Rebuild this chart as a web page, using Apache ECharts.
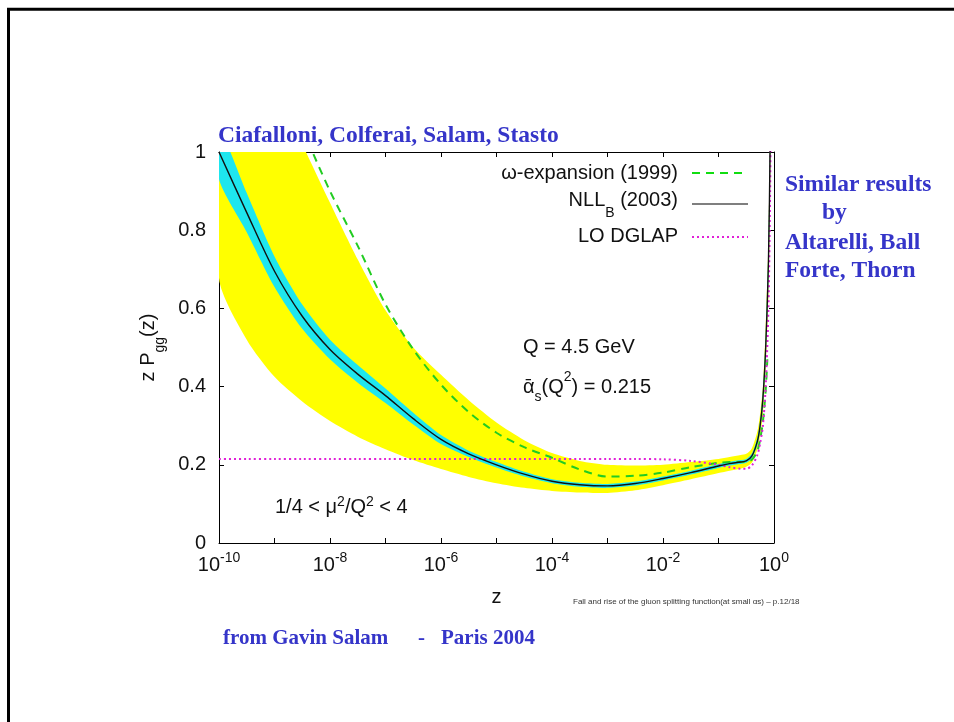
<!DOCTYPE html>
<html><head><meta charset="utf-8">
<script src="https://cdn.jsdelivr.net/npm/echarts@6/dist/echarts.min.js"></script>
<style>html,body{margin:0;padding:0;background:#fff}#c{width:954px;height:722px}</style>
</head><body><div id="c"></div><script>
// x positions are log10(z)
const logZ = [-10, -9.5, -9, -8.5, -8, -7.5, -7, -6.5, -6, -5.5, -5, -4.5, -4, -3.5, -3, -2.5, -2, -1.5, -1, -0.8, -0.6, -0.5, -0.4, -0.3, -0.25, -0.2, -0.15, -0.1, -0.07, -0.04];
// NLL_B (2003) central curve
const nllB = [1.0, 0.845, 0.695, 0.58, 0.495, 0.432, 0.377, 0.318, 0.265, 0.228, 0.2, 0.176, 0.158, 0.149, 0.146, 0.152, 0.165, 0.18, 0.197, 0.203, 0.207, 0.21, 0.222, 0.26, 0.30, 0.37, 0.5, 0.72, 1.02, 1.5];
// cyan band around NLL_B
const nllBLow = [0.93, 0.795, 0.655, 0.548, 0.47, 0.41, 0.358, 0.303, 0.253, 0.22, 0.193, 0.17, 0.153, 0.144, 0.141, 0.147, 0.16, 0.175, 0.192, 0.198, 0.202, 0.205, 0.216, 0.25, 0.288, 0.35, 0.47, 0.67, 0.95, 1.4];
const nllBHigh = [1.06, 0.895, 0.733, 0.61, 0.52, 0.455, 0.395, 0.333, 0.276, 0.236, 0.207, 0.182, 0.163, 0.154, 0.151, 0.157, 0.17, 0.185, 0.202, 0.208, 0.212, 0.215, 0.228, 0.27, 0.312, 0.39, 0.53, 0.77, 1.09, 1.6];
// yellow band: 1/4 < mu^2/Q^2 < 4
const scaleLow = [0.678, 0.52, 0.425, 0.362, 0.312, 0.272, 0.24, 0.212, 0.189, 0.169, 0.153, 0.141, 0.133, 0.129, 0.128, 0.135, 0.148, 0.163, 0.179, 0.185, 0.19, 0.195, 0.205, 0.24, 0.275, 0.33, 0.45, 0.64, 0.92, 1.3];
const scaleHigh = [1.5, 1.33, 1.17, 1.02, 0.87, 0.725, 0.595, 0.5, 0.43, 0.365, 0.308, 0.263, 0.23, 0.21, 0.2, 0.198, 0.2, 0.207, 0.215, 0.22, 0.225, 0.228, 0.242, 0.285, 0.33, 0.4, 0.55, 0.78, 1.1, 1.6];
// LO DGLAP
const dglap = [0.215, 0.215, 0.215, 0.215, 0.215, 0.215, 0.215, 0.215, 0.215, 0.215, 0.215, 0.215, 0.215, 0.215, 0.215, 0.215, 0.214, 0.21, 0.2, 0.194, 0.19, 0.19, 0.198, 0.225, 0.255, 0.3, 0.4, 0.6, 0.9, 1.45];
// omega-expansion (1999)
const omegaLogZ = [-8.5, -8, -7.5, -7, -6.5, -6, -5.5, -5, -4.5, -4, -3.5, -3, -2.5, -2, -1.5, -1, -0.8, -0.6, -0.5, -0.4, -0.3, -0.25, -0.2, -0.15, -0.12];
const omega = [1.06, 0.9, 0.76, 0.61, 0.495, 0.405, 0.335, 0.282, 0.245, 0.218, 0.188, 0.17, 0.172, 0.18, 0.194, 0.205, 0.207, 0.207, 0.208, 0.213, 0.235, 0.265, 0.31, 0.39, 0.47];
// tick labels on x: powers of ten shown
const xLabelExponents = [-10, -8, -6, -4, -2, 0];

const SANS = '"Liberation Sans", Arial, Helvetica, sans-serif';
const SERIF = '"Liberation Serif", "Times New Roman", serif';
const BLUE = '#3535c9';
const pairs = (xs, ys) => xs.map((x, i) => [x, ys[i]]);

function bandSeries(name, lo, hi, color, z) {
  return {
    name: name, type: 'custom', clip: true, silent: true, z: z,
    data: [[logZ[0], lo[0]]],
    renderItem: (params, api) => {
      const top = logZ.map((x, i) => api.coord([x, hi[i]]));
      const bot = logZ.map((x, i) => api.coord([x, lo[i]])).reverse();
      return {type: 'polygon', shape: {points: top.concat(bot), smooth: 0.25}, style: {fill: color, stroke: null}};
    }
  };
}

const chart = echarts.init(document.getElementById('c'), null, {renderer: 'canvas'});
const axisCommon = {
  axisLine: {show: true, onZero: false, lineStyle: {color: '#000', width: 1}},
  axisTick: {show: true, inside: true, length: 5, lineStyle: {color: '#000', width: 1}},
  splitLine: {show: false}
};
const supRich = {
  b: {fontSize: 20, fontFamily: SANS, color: '#111', lineHeight: 24, verticalAlign: 'bottom'},
  s: {fontSize: 14, fontFamily: SANS, color: '#111', lineHeight: 14, verticalAlign: 'top'}
};
const lineCommon = {type: 'line', symbol: 'none', smooth: 0.3};
const option = {
  backgroundColor: '#fff',
  animation: false,
  grid: {left: 219, right: 180, top: 152, bottom: 179, containLabel: false},
  xAxis: [
    Object.assign({
      type: 'value', position: 'bottom', min: -10, max: 0, interval: 1,
      name: 'z', nameLocation: 'middle', nameGap: 44,
      nameTextStyle: {fontSize: 20, fontFamily: SANS, color: '#111'},
      axisLabel: {
        margin: 8, hideOverlap: false,
        formatter: v => { const e = Math.round(v); return xLabelExponents.includes(e) ? '{b|10}{s|' + e + '}' : ''; },
        rich: supRich
      }
    }, axisCommon),
    Object.assign({type: 'value', position: 'top', min: -10, max: 0, interval: 1, axisLabel: {show: false}}, axisCommon)
  ],
  yAxis: [
    Object.assign({
      type: 'value', position: 'left', min: 0, max: 1, interval: 0.2,
      name: '{a|z P}{b|gg}{a|(z)}', nameLocation: 'middle', nameGap: 56, nameRotate: 90,
      nameTextStyle: {rich: {
        a: {fontSize: 20, fontFamily: SANS, color: '#111', lineHeight: 24, verticalAlign: 'top'},
        b: {fontSize: 14, fontFamily: SANS, color: '#111', lineHeight: 24, verticalAlign: 'bottom', padding: [0, 0, -5, 0]}
      }},
      axisLabel: {margin: 13, fontSize: 20, fontFamily: SANS, color: '#111'}
    }, axisCommon),
    Object.assign({type: 'value', position: 'right', min: 0, max: 1, interval: 0.2, axisLabel: {show: false}}, axisCommon)
  ],
  series: [
    bandSeries('scaleBand', scaleLow, scaleHigh, '#ffff00', 1),
    bandSeries('nllBand', nllBLow, nllBHigh, '#1ee6ee', 2),
    Object.assign({name: 'ω-expansion (1999)', data: pairs(omegaLogZ, omega), lineStyle: {color: '#22cc22', width: 2, type: [8, 6]}, z: 3}, lineCommon),
    Object.assign({name: 'LO DGLAP', data: pairs(logZ, dglap), lineStyle: {color: '#e020d8', width: 2, type: [2, 3]}, z: 4}, lineCommon),
    Object.assign({name: 'NLL_B (2003)', data: pairs(logZ, nllB), lineStyle: {color: '#111', width: 1.4}, z: 5}, lineCommon)
  ],
  graphic: [
    {type: 'line', z: 100, shape: {x1: 8.5, y1: 9, x2: 8.5, y2: 722}, style: {stroke: '#000', lineWidth: 3}},
    {type: 'line', z: 100, shape: {x1: 7, y1: 9.3, x2: 954, y2: 9.3}, style: {stroke: '#000', lineWidth: 3}},
    // titles
    {type: 'text', z: 100, x: 218, y: 136, style: {text: 'Ciafalloni, Colferai, Salam, Stasto', font: 'bold 23.5px ' + SERIF, fill: BLUE, textAlign: 'left', textVerticalAlign: 'middle'}},
    {type: 'text', z: 100, x: 785, y: 185, style: {text: 'Similar results', font: 'bold 23.5px ' + SERIF, fill: BLUE, textAlign: 'left', textVerticalAlign: 'middle'}},
    {type: 'text', z: 100, x: 822, y: 213, style: {text: 'by', font: 'bold 23.5px ' + SERIF, fill: BLUE, textAlign: 'left', textVerticalAlign: 'middle'}},
    {type: 'text', z: 100, x: 785, y: 243, style: {text: 'Altarelli, Ball', font: 'bold 23.5px ' + SERIF, fill: BLUE, textAlign: 'left', textVerticalAlign: 'middle'}},
    {type: 'text', z: 100, x: 785, y: 271, style: {text: 'Forte, Thorn', font: 'bold 23.5px ' + SERIF, fill: BLUE, textAlign: 'left', textVerticalAlign: 'middle'}},
    {type: 'text', z: 100, x: 223, y: 639, style: {text: 'from Gavin Salam', font: 'bold 21px ' + SERIF, fill: BLUE, textAlign: 'left', textVerticalAlign: 'middle'}},
    {type: 'text', z: 100, x: 418, y: 639, style: {text: '-', font: 'bold 21px ' + SERIF, fill: BLUE, textAlign: 'left', textVerticalAlign: 'middle'}},
    {type: 'text', z: 100, x: 441, y: 639, style: {text: 'Paris 2004', font: 'bold 21px ' + SERIF, fill: BLUE, textAlign: 'left', textVerticalAlign: 'middle'}},
    {type: 'text', z: 100, x: 573, y: 602, style: {text: 'Fall and rise of the gluon splitting function(at small αs) – p.12/18', font: '8px ' + SANS, fill: '#333', textAlign: 'left', textVerticalAlign: 'middle'}},
    // legend
    {type: 'text', z: 100, x: 678, y: 173, style: {text: 'ω-expansion (1999)', font: '20px ' + SANS, fill: '#111', textAlign: 'right', textVerticalAlign: 'middle'}},
    {type: 'line', z: 100, shape: {x1: 692, y1: 173, x2: 748, y2: 173}, style: {stroke: '#11dd11', lineWidth: 2, lineDash: [8, 6]}},
    {type: 'text', z: 100, x: 678, y: 205, style: {text: '{a|NLL}{b|B}{a| (2003)}', textAlign: 'right', textVerticalAlign: 'middle',
      rich: {a: {fontSize: 20, fontFamily: SANS, fill: '#111', lineHeight: 24, verticalAlign: 'top'}, b: {fontSize: 14, fontFamily: SANS, fill: '#111', lineHeight: 30, verticalAlign: 'bottom'}}}},
    {type: 'line', z: 100, shape: {x1: 692, y1: 204, x2: 748, y2: 204}, style: {stroke: '#555', lineWidth: 1.5}},
    {type: 'text', z: 100, x: 678, y: 236, style: {text: 'LO DGLAP', font: '20px ' + SANS, fill: '#111', textAlign: 'right', textVerticalAlign: 'middle'}},
    {type: 'line', z: 100, shape: {x1: 692, y1: 237, x2: 748, y2: 237}, style: {stroke: '#e020d8', lineWidth: 2, lineDash: [2, 3]}},
    // annotations
    {type: 'text', z: 100, x: 523, y: 347, style: {text: 'Q = 4.5 GeV', font: '20px ' + SANS, fill: '#111', textAlign: 'left', textVerticalAlign: 'middle'}},
    {type: 'text', z: 100, x: 523, y: 387, style: {text: '{a|ᾱ}{b|s}{a|(Q}{c|2}{a|) = 0.215}', textAlign: 'left', textVerticalAlign: 'middle',
      rich: {a: {fontSize: 20, fontFamily: SANS, fill: '#111', lineHeight: 24}, b: {fontSize: 14, fontFamily: SANS, fill: '#111', lineHeight: 34, verticalAlign: 'bottom'}, c: {fontSize: 14, fontFamily: SANS, fill: '#111', lineHeight: 14, verticalAlign: 'top'}}}},
    {type: 'text', z: 100, x: 275, y: 507, style: {text: '{a|1/4 < μ}{c|2}{a|/Q}{c|2}{a| < 4}', textAlign: 'left', textVerticalAlign: 'middle',
      rich: {a: {fontSize: 20, fontFamily: SANS, fill: '#111', lineHeight: 24}, c: {fontSize: 14, fontFamily: SANS, fill: '#111', lineHeight: 14, verticalAlign: 'top'}}}}
  ]
};
chart.setOption(option);
</script></body></html>
